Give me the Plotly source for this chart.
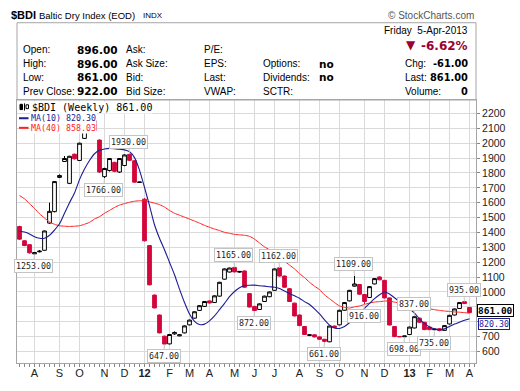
import plotly.graph_objects as go
import pandas as pd

# ---------------- data ----------------
weeks = pd.date_range("2011-07-15", periods=91, freq="W-FRI").strftime("%Y-%m-%d").tolist()

opens = [1440, 1344, 1318, 1256, 1270, 1280, 1463, 1540, 1770, 1877,
         1730, 1926, 1884, 2032, 2150, 2150, 2021, 1775, 1816, 1871,
         1806, 1850, 1925, 1882, 1736, 1624, 1312, 979, 845, 703,
         651, 718, 705, 725, 779, 824, 876, 903, 940, 929,
         972, 1086, 1134, 1165, 1133, 1141, 989, 903, 882, 936,
         968, 1011, 1162, 1107, 1022, 925, 845, 768, 708, 712,
         698, 682, 665, 771, 779, 877, 940, 1039, 1050, 983,
         963, 1054, 1101, 1078, 960, 768, 701, 699, 714, 758,
         824, 796, 764, 746, 753, 742, 785, 845, 889, 935,
         896]
highs = [1445, 1348, 1320, 1268, 1282, 1413, 1600, 1745, 1790, 1914,
         1915, 1930, 2003, 2150, 2173, 2155, 2025, 1835, 1900, 1875,
         1900, 1925, 1930, 1885, 1740, 1630, 1316, 983, 848, 706,
         716, 735, 716, 775, 814, 870, 911, 939, 943, 977,
         1068, 1158, 1163, 1165, 1141, 1144, 992, 906, 923, 975,
         1003, 1158, 1162, 1110, 1025, 928, 848, 771, 714, 715,
         701, 685, 774, 774, 880, 932, 1014, 1109, 1053, 986,
         1039, 1093, 1105, 1081, 963, 771, 703, 705, 767, 837,
         827, 799, 767, 751, 756, 777, 846, 889, 932, 935,
         896]
lows = [1350, 1308, 1258, 1253, 1266, 1278, 1458, 1535, 1765, 1874,
        1725, 1890, 1880, 2028, 2140, 2080, 1800, 1766, 1810, 1805,
        1800, 1845, 1880, 1735, 1734, 1340, 1045, 890, 722, 647,
        648, 712, 702, 722, 776, 821, 873, 900, 923, 926,
        969, 1083, 1131, 1132, 1129, 1029, 896, 872, 880, 933,
        965, 1008, 1104, 1029, 933, 836, 771, 711, 703, 695,
        679, 661, 663, 757, 776, 874, 937, 1035, 982, 916,
        960, 1051, 1079, 957, 775, 697, 698, 698, 711, 755,
        793, 744, 744, 744, 735, 739, 782, 842, 886, 919,
        861]
closes = [1355, 1312, 1263, 1265, 1274, 1410, 1542, 1742, 1783, 1897,
          1912, 1895, 2000, 2140, 2165, 2086, 1806, 1830, 1897, 1811,
          1897, 1921, 1885, 1738, 1739, 1344, 1048, 893, 725, 650,
          714, 728, 712, 772, 811, 867, 908, 936, 926, 974,
          1065, 1155, 1161, 1135, 1138, 1032, 899, 875, 920, 972,
          1000, 1155, 1107, 1032, 936, 839, 774, 714, 712, 698,
          682, 668, 771, 760, 877, 929, 1011, 1054, 985, 936,
          1036, 1090, 1082, 960, 778, 700, 699, 704, 764, 834,
          796, 747, 747, 750, 742, 774, 843, 886, 929, 922,
          861]
ma10 = [1410, 1403, 1390, 1371, 1361, 1361, 1381, 1416, 1458, 1529,
        1600, 1665, 1755, 1826, 1884, 1929, 1952, 1961, 1965, 1963,
        1959, 1955, 1942, 1903, 1819, 1703, 1581, 1452, 1361, 1284,
        1200, 1116, 1019, 929, 852, 803, 781, 784, 806, 839,
        881, 923, 968, 1003, 1029, 1042, 1045, 1046, 1042, 1039,
        1035, 1032, 1023, 1006, 990, 974, 958, 935, 916, 887,
        852, 813, 777, 758, 755, 768, 793, 819, 845, 890,
        923, 955, 981, 1000, 987, 961, 935, 910, 887, 858,
        819, 787, 765, 752, 746, 752, 768, 784, 797, 810,
        820.30]
ma40 = [1648, 1626, 1594, 1561, 1526, 1497, 1471, 1455, 1445, 1442,
        1440, 1442, 1445, 1455, 1468, 1490, 1506, 1529, 1548, 1568,
        1584, 1594, 1603, 1610, 1613, 1613, 1606, 1597, 1587, 1571,
        1548, 1529, 1516, 1503, 1490, 1477, 1463, 1448, 1435, 1423,
        1413, 1401, 1394, 1387, 1384, 1381, 1374, 1355, 1329, 1303,
        1284, 1265, 1239, 1206, 1181, 1155, 1123, 1097, 1065, 1039,
        1016, 981, 955, 929, 906, 897, 892, 900, 906, 916,
        926, 932, 935, 939, 939, 932, 926, 919, 913, 906,
        900, 893, 887, 881, 876, 872, 869, 866, 864, 861,
        858.03]

month_ticks = ["2011-08-05", "2011-09-09", "2011-10-07", "2011-11-11", "2011-12-09",
               "2012-01-06", "2012-02-10", "2012-03-09", "2012-04-06", "2012-05-11",
               "2012-06-08", "2012-07-06", "2012-08-10", "2012-09-07", "2012-10-05",
               "2012-11-09", "2012-12-07", "2013-01-11", "2013-02-08", "2013-03-08",
               "2013-04-05"]
month_labels = ["A", "S", "O", "N", "D", "<b>12</b>", "F", "M", "A", "M", "J", "J",
                "A", "S", "O", "N", "D", "<b>13</b>", "F", "M", "A"]
year_ticks = ["2012-01-06", "2013-01-11"]
y_ticks = list(range(600, 2300, 100))
y_ticktext = ["" if v in (800, 900) else str(v) for v in y_ticks]  # hidden behind value tags

label_weeks = ["2011-08-05", "2011-11-11", "2011-12-16", "2012-02-03", "2012-05-11",
               "2012-06-08", "2012-07-13", "2012-09-14", "2012-10-26", "2012-11-09",
               "2013-01-04", "2013-01-18", "2013-02-15", "2013-03-29"]
label_values = [1253, 1766, 1930, 647, 1165, 872, 1162, 661, 1109, 916, 698, 837, 735, 935]
label_side = ["below", "below", "above", "below", "above", "below", "above", "below",
              "above", "below", "below", "above", "below", "above"]

last_close = 861.00
last_ma10 = 820.30
last_ma40 = 858.03

# ---------------- style ----------------
RED = "#d4063c"
NAVY = "#1c1c96"
MARED = "#ff2020"
GRID = "#dadada"
FRAME = "#a6a6a6"
SANS = "Liberation Sans, Arial, sans-serif"
VER = "DejaVu Sans, Verdana, sans-serif"
MONO = "DejaVu Sans Mono, monospace"

L, R, T, B = 17, 476, 100, 374


def px(x):
    return (x - L) / (R - L)


def py(y):
    return (B - y) / (B - T)


def txt(text, x, y, size=10, color="#000", anchor="left", family=SANS, bg=None):
    d = dict(xref="paper", yref="paper", x=px(x), y=py(y), xanchor=anchor,
             yanchor="middle", showarrow=False, text=text,
             font=dict(size=size, color=color, family=family))
    if bg:
        d.update(bgcolor=bg, borderpad=0)
    return d


fig = go.Figure()
fig.add_trace(go.Candlestick(
    x=weeks, open=opens, high=highs, low=lows, close=closes,
    increasing=dict(line=dict(color="#000000", width=1), fillcolor="#ffffff"),
    decreasing=dict(line=dict(color=RED, width=1), fillcolor=RED),
    whiskerwidth=0, showlegend=False, hoverinfo="skip"))
fig.add_trace(go.Scatter(x=weeks, y=ma40, mode="lines",
                         line=dict(color=MARED, width=1, shape="spline", smoothing=0.6),
                         showlegend=False, hoverinfo="skip"))
fig.add_trace(go.Scatter(x=weeks, y=ma10, mode="lines",
                         line=dict(color=NAVY, width=1.1, shape="spline", smoothing=0.6),
                         showlegend=False, hoverinfo="skip"))

ann = []
# header
ann.append(txt("<b>$BDI</b>", 9, 11.5, size=11))
ann.append(txt("Baltic Dry Index (EOD)", 37, 12, size=9.5))
ann.append(txt("INDX", 141, 12, size=8))
ann.append(txt("© StockCharts.com", 476, 12, size=10, color="#555", anchor="right"))
ann.append(txt("Friday  5-Apr-2013", 470, 28, size=10, anchor="right"))
ann.append(txt("▼", 411, 43, size=12, color="#9b0033", anchor="center", family=VER))
ann.append(txt("<b>-6.62%</b>", 470, 43.5, size=12, color="#9b0033", anchor="right", family=VER))

rows = [47.5, 62, 76.5, 91]
col1 = ["Open:", "High:", "Low:", "Prev Close:"]
col1v = ["896.00", "896.00", "861.00", "922.00"]
col2 = ["Ask:", "Ask Size:", "Bid:", "Bid Size:"]
col3 = ["P/E:", "EPS:", "Last:", "VWAP:"]
col4 = ["", "Options:", "Dividends:", "SCTR:"]
col4v = ["", "no", "no", ""]
col5 = ["", "Chg:", "Last:", "Volume:"]
col5v = ["", "-61.00", "861.00", "0"]
for k, yy in enumerate(rows):
    ann.append(txt(col1[k], 21, yy))
    ann.append(txt("<b>%s</b>" % col1v[k], 75, yy, size=10.5, family=VER))
    ann.append(txt(col2[k], 124, yy))
    ann.append(txt(col3[k], 202, yy))
    if col4[k]:
        ann.append(txt(col4[k], 261, yy))
    if col4v[k]:
        ann.append(txt("<b>%s</b>" % col4v[k], 317, yy, size=10.5, family=VER))
    if col5[k]:
        ann.append(txt(col5[k], 403, yy))
        ann.append(txt("<b>%s</b>" % col5v[k], 470, yy, size=9.8, family=VER, anchor="right"))

# in-chart legend
ann.append(txt("$BDI (Weekly) %.2f" % last_close, 31, 107.5, size=10, family=MONO, bg="#ffffff"))
ann.append(txt("MA(10) %.2f" % last_ma10, 29.5, 119, size=8.3, color=NAVY, family=MONO, bg="#ffffff"))
ann.append(txt("MA(40) %.2f" % last_ma40, 29.5, 129, size=8.3, color=MARED, family=MONO, bg="#ffffff"))

# high/low value labels
for wk, v, side in zip(label_weeks, label_values, label_side):
    ann.append(dict(xref="x", yref="y", x=wk, y=v, text="%.2f" % v,
                    showarrow=True, arrowhead=0, arrowwidth=1, arrowcolor="#c4c4c4",
                    ax=-1, ay=(12 if side == "below" else -12),
                    bgcolor="#ffffff", bordercolor="#c4c4c4", borderwidth=1, borderpad=1,
                    font=dict(size=8.3, color="#222", family=MONO)))

# right-edge value tags
ann.append(dict(xref="paper", yref="y", x=px(478), y=last_ma10, xanchor="left", yanchor="middle",
                yshift=-5, showarrow=False, text="%.2f" % last_ma10, bgcolor="#ffffff",
                bordercolor=NAVY, borderwidth=1, borderpad=0,
                font=dict(size=8.3, color=NAVY, family=MONO)))
ann.append(dict(xref="paper", yref="y", x=px(477), y=last_close, xanchor="left", yanchor="middle",
                yshift=2, showarrow=False, text="<b>%.2f</b>" % last_close, bgcolor="#ffffff",
                bordercolor="#000", borderwidth=1, borderpad=0,
                font=dict(size=9.5, color="#000", family=MONO)))

shapes = [
    dict(type="rect", xref="paper", yref="paper", x0=0, x1=1, y0=1, y1=py(19.5),
         line=dict(color=FRAME, width=1), fillcolor="rgba(0,0,0,0)"),
    dict(type="line", xref="paper", yref="paper", x0=px(19), x1=px(28.5), y0=py(119), y1=py(119),
         line=dict(color=NAVY, width=2)),
    dict(type="line", xref="paper", yref="paper", x0=px(19), x1=px(28.5), y0=py(129), y1=py(129),
         line=dict(color=MARED, width=2)),
    # small candlestick icon in legend
    dict(type="rect", xref="paper", yref="paper", x0=px(20), x1=px(22.5), y0=py(110), y1=py(104.5),
         line=dict(color="#000", width=1), fillcolor="#000"),
    dict(type="line", xref="paper", yref="paper", x0=px(24.5), x1=px(24.5), y0=py(111), y1=py(103.5),
         line=dict(color="#000", width=1)),
    dict(type="rect", xref="paper", yref="paper", x0=px(26), x1=px(28.5), y0=py(109), y1=py(105),
         line=dict(color="#000", width=1), fillcolor="#fff"),
]
for yt in year_ticks:
    shapes.append(dict(type="line", xref="x", yref="paper", x0=yt, x1=yt, y0=0, y1=1,
                       layer="below", line=dict(color="#a8a8a8", width=1)))

fig.update_layout(
    width=520, height=391,
    margin=dict(l=L, r=520 - R, t=T, b=391 - B),
    paper_bgcolor="#ffffff", plot_bgcolor="#ffffff",
    showlegend=False, hovermode=False, dragmode=False,
    boxgap=0.25, boxgroupgap=0,
    annotations=ann, shapes=shapes,
    xaxis=dict(type="date", range=["2011-07-11 12:00", "2013-04-14 02:00"],
               tickmode="array", tickvals=month_ticks, ticktext=month_labels,
               showgrid=True, gridcolor=GRID, gridwidth=1, ticks="",
               minor=dict(ticks="outside", ticklen=3, tickcolor="#888", dtick=7 * 86400000,
                          tick0="2011-07-15", showgrid=False),
               showline=True, linecolor=FRAME, mirror=True, zeroline=False,
               rangeslider=dict(visible=False), fixedrange=True,
               tickfont=dict(size=11, color="#222", family=SANS)),
    yaxis=dict(side="right", range=[522.6, 2290.3], tickmode="array", tickvals=y_ticks,
               ticktext=y_ticktext,
               showgrid=True, gridcolor=GRID, gridwidth=1, ticks="outside", ticklen=3,
               tickcolor="#888", showline=True, linecolor=FRAME, mirror=True, zeroline=False,
               fixedrange=True, tickfont=dict(size=10.5, color="#222", family=SANS)),
)

fig.write_html("out.html", config={"displayModeBar": False, "staticPlot": True},
               post_script="document.body.style.margin='0px';")
